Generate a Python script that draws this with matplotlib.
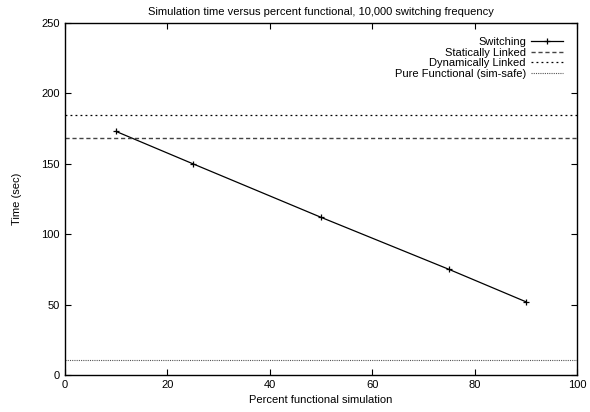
import matplotlib
matplotlib.use('Agg')
import matplotlib.pyplot as plt

plt.rcParams['font.family'] = ['Liberation Sans', 'DejaVu Sans']

# datos
pct = [10, 25, 50, 75, 90]
tiempo_switching = [173, 150, 112, 75, 52]
static_linked = 168.3
dynamic_linked = 185
pure_functional = 10.5

fig = plt.figure(figsize=(5.9, 4.12), dpi=100)
ax = fig.add_axes([0.110, 0.090, 0.868, 0.854])

ax.plot(pct, tiempo_switching, color='black', lw=0.9, marker='+', ms=5,
        mew=0.9, label='Switching')
ax.axhline(static_linked, color='#444444', lw=1.0, ls=(0, (3, 2)),
           label='Statically Linked')
ax.axhline(dynamic_linked, color='black', lw=0.9, ls=(0, (1.5, 2.5)),
           label='Dynamically Linked')
ax.axhline(pure_functional, color='#555555', lw=0.8, ls=(0, (1, 1)),
           label='Pure Functional (sim-safe)')

ax.set_xlim(0, 100)
ax.set_ylim(0, 250)
ax.set_xticks(range(0, 101, 20))
ax.set_yticks(range(0, 251, 50))
ax.tick_params(direction='in', top=True, right=True, length=4, labelsize=8)
for s in ax.spines.values():
    s.set_linewidth(1.0)

ax.set_xlabel('Percent functional simulation', fontsize=8, labelpad=4)
ax.set_ylabel('Time (sec)', fontsize=8, labelpad=14)
ax.set_title('Simulation time versus percent functional, 10,000 switching frequency',
             fontsize=8, pad=6)

leg = ax.legend(loc='upper right', frameon=False, markerfirst=False,
                fontsize=8, handlelength=2.9, handletextpad=0.45,
                labelspacing=0.05, borderaxespad=0.85)

plt.savefig('out.png', dpi=100)
plt.close()
